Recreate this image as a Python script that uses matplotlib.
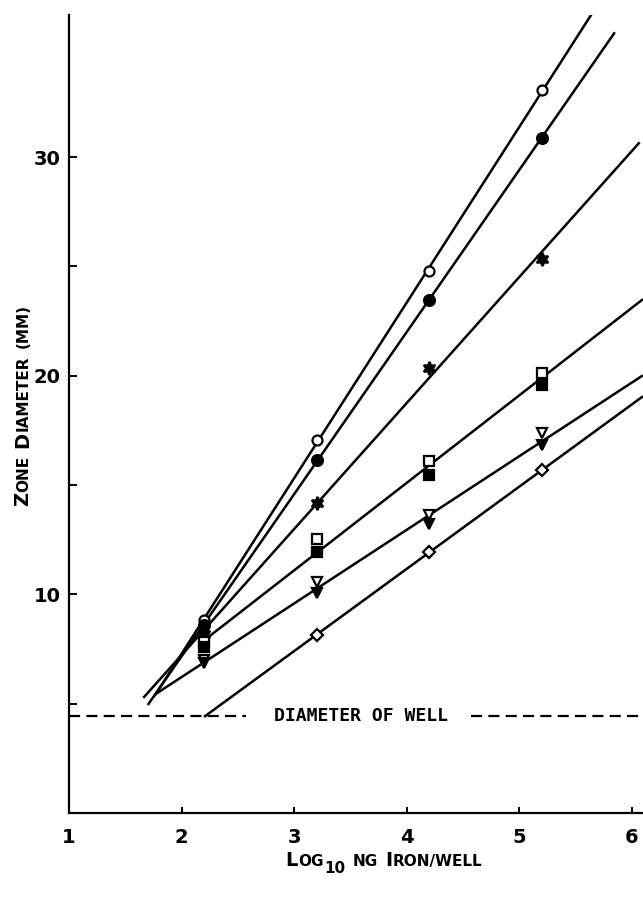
import numpy as np
import matplotlib
matplotlib.use("Agg")
from matplotlib import pyplot as plt
from matplotlib.transforms import IdentityTransform

# datos (log10 ng hierro por pozo vs diametro de zona en mm)
x_log = [2.2, 3.2, 4.2, 5.2]
circulo_abierto = [8.85, 17.06, 24.77, 33.05]
circulo_lleno = [8.6, 16.15, 23.45, 30.88]
estrella = [8.2, 14.17, 20.37, 25.34]
cuadro_abierto = [7.8, 12.54, 16.12, 20.12]
cuadro_lleno = [7.6, 11.94, 15.47, 19.59]
triangulo_abierto = [7.0, 10.56, 13.61, 17.38]
triangulo_lleno = [6.85, 10.05, 13.23, 16.84]
x_rombo = [3.2, 4.2, 5.2]
rombo = [8.15, 11.93, 15.67]
diametro_pozo = 4.44

# extension de cada recta ajustada (inicio, fin en log10)
rango_circulo_abierto = (1.76, 5.7)
rango_circulo_lleno = (1.70, 5.85)
rango_estrella = (1.66, 6.07)
rango_cuadro = (2.18, 6.1)
rango_triangulo = (1.76, 6.1)
rango_rombo = (2.2, 6.1)

ticks_x = [1, 2, 3, 4, 5, 6]
ticks_y = [10, 20, 30]
ticks_y_menor = [5, 15, 25]

fuente = "DejaVu Sans"
fig = plt.figure(figsize=(6.43, 8.97), dpi=100)
ax = fig.add_axes([69 / 643, 84 / 897, 1 - 69 / 643, 798 / 897])


def recta(xs, ys, rango):
    # ajuste lineal por minimos cuadrados, dibujado en el rango dado
    m, b = np.polyfit(xs, ys, 1)
    xx = np.array(rango)
    ax.plot(xx, m * xx + b, color="black", lw=1.8, solid_capstyle="butt", zorder=2)


recta(x_log, circulo_abierto, rango_circulo_abierto)
recta(x_log, circulo_lleno, rango_circulo_lleno)
recta(x_log, estrella, rango_estrella)
recta(x_log + x_log, cuadro_abierto + cuadro_lleno, rango_cuadro)
recta(x_log + x_log, triangulo_abierto + triangulo_lleno, rango_triangulo)
recta(x_rombo, rombo, rango_rombo)

marca = dict(linestyle="none", markeredgecolor="black", markeredgewidth=1.6, zorder=3, clip_on=False)
ax.plot(x_log, circulo_abierto, marker="o", markersize=7.2, markerfacecolor="white", **marca)
ax.plot(x_log, circulo_lleno, marker="o", markersize=7.8, markerfacecolor="black", **marca)
ax.plot(x_log, estrella, marker=(6, 1, 0), markersize=9.5, markerfacecolor="black", **marca)
ax.plot(x_log, cuadro_abierto, marker="s", markersize=6.8, markerfacecolor="white", **marca)
ax.plot(x_log, cuadro_lleno, marker="s", markersize=6.8, markerfacecolor="black", **marca)
ax.plot(x_log, triangulo_abierto, marker="v", markersize=7.8, markerfacecolor="white", **marca)
ax.plot(x_log, triangulo_lleno, marker="v", markersize=7.8, markerfacecolor="black", **marca)
ax.plot(x_rombo, rombo, marker="D", markersize=6.2, markerfacecolor="white", **marca)

# linea discontinua del diametro del pozo, cortada alrededor del texto
guion = dict(color="black", lw=1.6, dashes=(5, 2.8), zorder=2)
ax.plot([1.0, 2.57], [diametro_pozo, diametro_pozo], **guion)
ax.plot([4.57, 6.1], [diametro_pozo, diametro_pozo], **guion)
ax.text(3.59, diametro_pozo, "DIAMETER OF WELL", ha="center", va="center",
        fontsize=13, fontweight="bold", family="DejaVu Sans Mono")

ax.set_xlim(1, 6.1)
ax.set_ylim(0, 36.5)
ax.spines["top"].set_visible(False)
ax.spines["right"].set_visible(False)
ax.spines["left"].set_linewidth(1.6)
ax.spines["bottom"].set_linewidth(1.6)
ax.set_xticks(ticks_x)
ax.set_xticklabels([str(t) for t in ticks_x])
ax.set_yticks(ticks_y)
ax.set_yticklabels([str(t) for t in ticks_y])
ax.set_yticks(ticks_y_menor, minor=True)
ax.tick_params(axis="x", direction="in", length=4, width=1.4, pad=11, labelsize=14)
ax.tick_params(axis="y", which="both", direction="in", length=6, width=1.4, pad=6, labelsize=14)
for lab in ax.get_xticklabels() + ax.get_yticklabels():
    lab.set_fontweight("bold")
    lab.set_family(fuente)

# rotulos en versalitas, armados por piezas
render = fig.canvas.get_renderer()


def versalitas(piezas, centro, base, vertical=False):
    textos = []
    pos = 0.0
    for txt, tam, desv in piezas:
        if txt == " ":
            pos += 7
            continue
        if vertical:
            t = fig.text(base + desv, pos, txt, rotation=90, rotation_mode="anchor",
                         ha="left", va="baseline", fontsize=tam, fontweight="bold",
                         family=fuente, transform=IdentityTransform())
            pos += t.get_window_extent(render).height + 0.5
        else:
            t = fig.text(pos, base + desv, txt, ha="left", va="baseline", fontsize=tam,
                         fontweight="bold", family=fuente, transform=IdentityTransform())
            pos += t.get_window_extent(render).width + 0.5
        textos.append(t)
    corr = centro - pos / 2
    for t in textos:
        x, y = t.get_position()
        if vertical:
            t.set_position((x, y + corr))
        else:
            t.set_position((x + corr, y))


versalitas([("L", 14, 0), ("OG", 11, 0), ("10", 11, -7), (" ", 0, 0), ("NG", 11, 0),
            (" ", 0, 0), ("I", 14, 0), ("RON/WELL", 11, 0)], 384, 897 - 866)
versalitas([("Z", 14, 0), ("ONE", 11, 0), (" ", 0, 0), ("D", 14, 0), ("IAMETER", 11, 0),
            (" ", 0, 0), ("(MM)", 11, 0)], 897 - 405, 28, vertical=True)

fig.savefig("out.png", dpi=100)
plt.close(fig)
